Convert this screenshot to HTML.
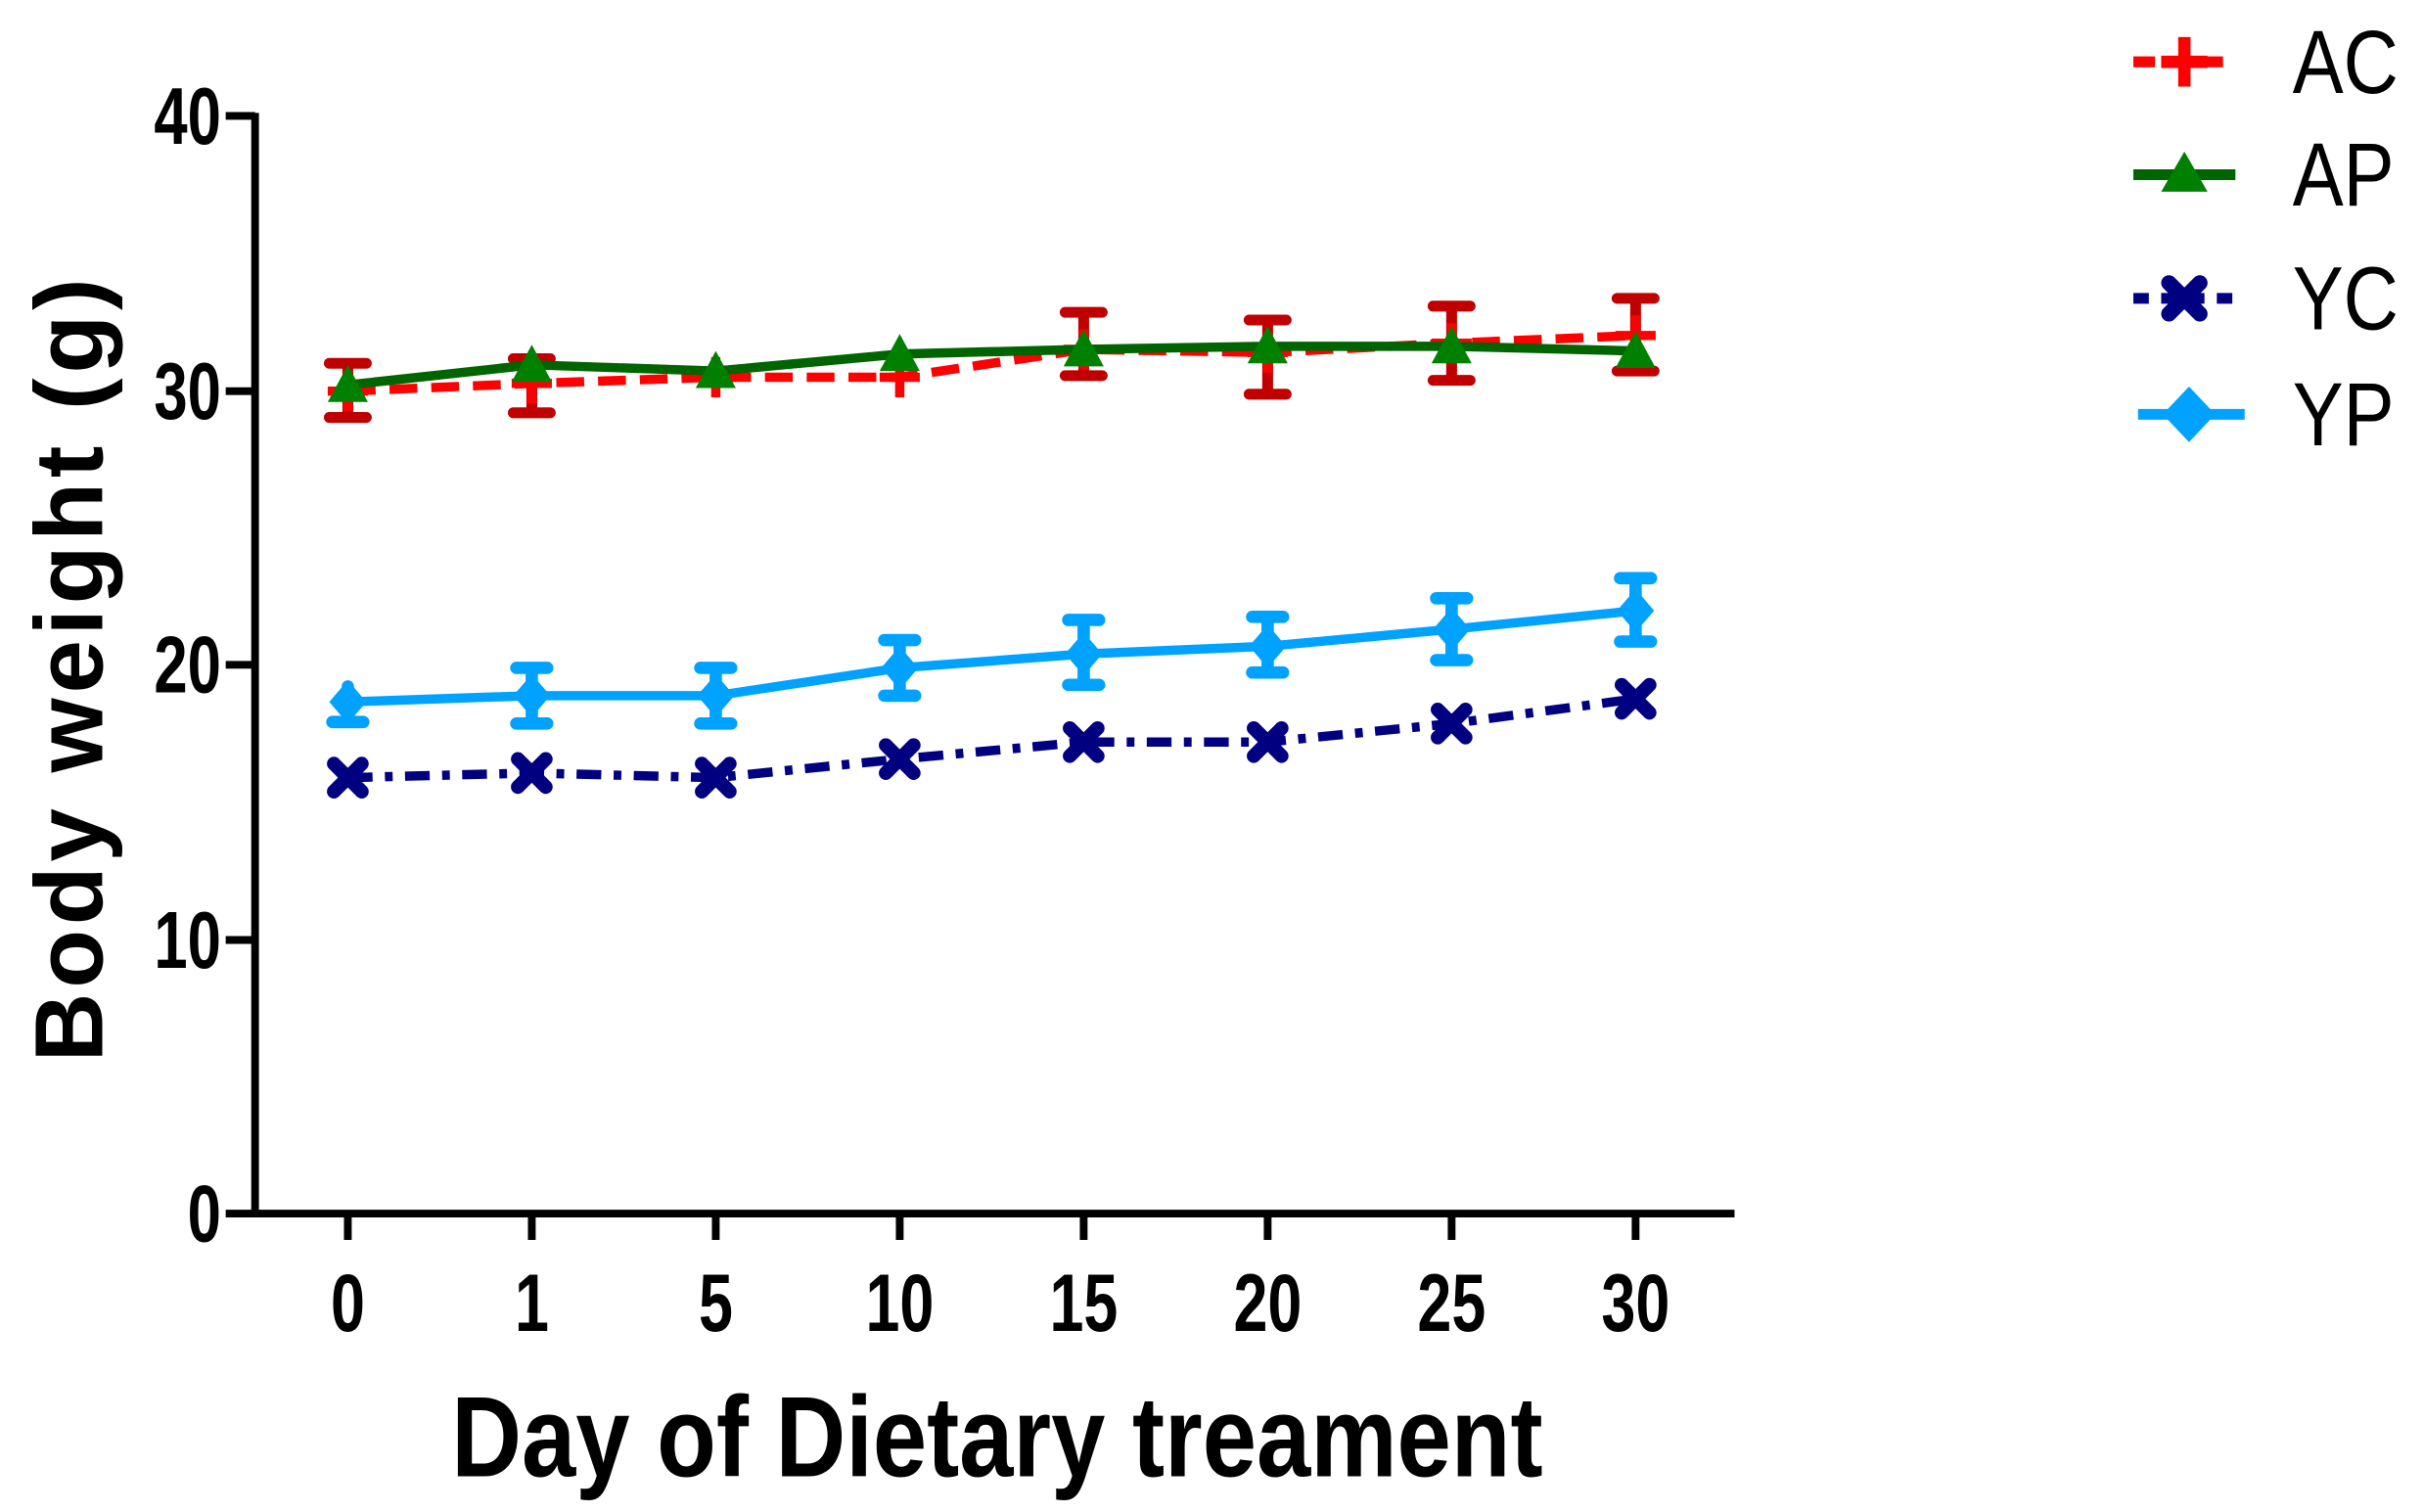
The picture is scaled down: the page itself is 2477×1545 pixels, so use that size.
<!DOCTYPE html>
<html><head><meta charset="utf-8"><style>
html,body{margin:0;padding:0;background:#fff;}
svg{display:block;}
text{font-family:"Liberation Sans",sans-serif;}
</style></head><body>
<svg width="2477" height="1545" viewBox="0 0 1568 978" preserveAspectRatio="none" xmlns="http://www.w3.org/2000/svg">
<g stroke="#000" stroke-width="5" fill="none">
<line x1="165" y1="73" x2="165" y2="787"/>
<line x1="146" y1="785" x2="1122" y2="785"/>
<line x1="146" y1="75" x2="165" y2="75"/>
<line x1="146" y1="253" x2="165" y2="253"/>
<line x1="146" y1="430" x2="165" y2="430"/>
<line x1="146" y1="608" x2="165" y2="608"/>
<line x1="225" y1="785" x2="225" y2="802"/>
<line x1="344" y1="785" x2="344" y2="802"/>
<line x1="463" y1="785" x2="463" y2="802"/>
<line x1="582" y1="785" x2="582" y2="802"/>
<line x1="701" y1="785" x2="701" y2="802"/>
<line x1="820" y1="785" x2="820" y2="802"/>
<line x1="939" y1="785" x2="939" y2="802"/>
<line x1="1058" y1="785" x2="1058" y2="802"/>
</g>
<g font-size="52" font-weight="bold" text-anchor="end">
<text transform="translate(143 93) scale(0.75 1)">40</text>
<text transform="translate(143 271) scale(0.75 1)">30</text>
<text transform="translate(143 448) scale(0.75 1)">20</text>
<text transform="translate(143 626) scale(0.75 1)">10</text>
<text transform="translate(143 803) scale(0.75 1)">0</text>
</g>
<g font-size="53" font-weight="bold" text-anchor="middle">
<text transform="translate(225 861) scale(0.75 1)">0</text>
<text transform="translate(344 861) scale(0.75 1)">1</text>
<text transform="translate(463 861) scale(0.75 1)">5</text>
<text transform="translate(582 861) scale(0.75 1)">10</text>
<text transform="translate(701 861) scale(0.75 1)">15</text>
<text transform="translate(820 861) scale(0.75 1)">20</text>
<text transform="translate(939 861) scale(0.75 1)">25</text>
<text transform="translate(1058 861) scale(0.75 1)">30</text>
</g>
<text transform="translate(645 955) scale(0.85 1)" font-size="74" font-weight="bold" text-anchor="middle">Day of Dietary treament</text>
<text transform="translate(66 432) rotate(-90)" font-size="62" font-weight="bold" text-anchor="middle" letter-spacing="3">Body weight (g)</text>

<g stroke="#c00000" stroke-width="7" stroke-linecap="round">
<path d="M225 235V270M213 235H237M213 270H237"/>
<path d="M344 232V267M332 232H356M332 267H356"/>
<path d="M701 202V243M689 202H713M689 243H713"/>
<path d="M820 207V255M808 207H832M808 255H832"/>
<path d="M939 198V246M927 198H951M927 246H951"/>
<path d="M1058 193V240M1046 193H1070M1046 240H1070"/>
</g>
<g stroke="#00a2ff" stroke-width="8" stroke-linecap="round">
<path d="M225 444V467M215 467H235"/>
<path d="M344 432V468M334 432H354M334 468H354"/>
<path d="M463 432V468M453 432H473M453 468H473"/>
<path d="M582 414V450M572 414H592M572 450H592"/>
<path d="M701 401V443M691 401H711M691 443H711"/>
<path d="M820 399V435M810 399H830M810 435H830"/>
<path d="M939 387V427M929 387H949M929 427H949"/>
<path d="M1058 374V415M1048 374H1068M1048 415H1068"/>
</g>
<polyline fill="none" stroke="#ff0000" stroke-width="6" stroke-dasharray="18,9" points="225,253 344,248 463,244 582,244 701,226 820,228 939,222 1058,217"/>
<g stroke="#ff0000" stroke-width="6">
<path d="M225 240V266M212 253H238M344 235V261M331 248H357M463 231V257M450 244H476M582 231V257M569 244H595M701 213V239M688 226H714M820 215V241M807 228H833M939 209V235M926 222H952M1058 204V230M1045 217H1071"/>
</g>
<polyline fill="none" stroke="#006400" stroke-width="6" points="225,249 344,236 463,240 582,229 701,226 820,224 939,224 1058,227"/>
<g fill="#008000">
<path d="M225 236L238 260H212Z"/><path d="M344 223L357 247H331Z"/><path d="M463 227L476 251H450Z"/><path d="M582 216L595 240H569Z"/><path d="M701 213L714 237H688Z"/><path d="M820 211L833 235H807Z"/><path d="M939 211L952 235H926Z"/><path d="M1058 214L1071 238H1045Z"/>
</g>
<polyline fill="none" stroke="#000080" stroke-width="6" stroke-dasharray="16,8,5,8" points="225,503 344,500 463,503 582,491 701,480 820,480 939,468 1058,452"/>
<g stroke="#000080" stroke-width="9" stroke-linecap="round">
<path d="M216 494L234 512M234 494L216 512"/>
<path d="M335 491L353 509M353 491L335 509"/>
<path d="M454 494L472 512M472 494L454 512"/>
<path d="M573 482L591 500M591 482L573 500"/>
<path d="M692 471L710 489M710 471L692 489"/>
<path d="M811 471L829 489M829 471L811 489"/>
<path d="M930 459L948 477M948 459L930 477"/>
<path d="M1049 443L1067 461M1067 443L1049 461"/>
</g>
<polyline fill="none" stroke="#00a2ff" stroke-width="6" points="225,454 344,450 463,450 582,432 701,423 820,418 939,407 1058,395"/>
<g fill="#00a2ff">
<path d="M225 440L237 454L225 468L213 454Z"/><path d="M344 436L356 450L344 464L332 450Z"/><path d="M463 436L475 450L463 464L451 450Z"/><path d="M582 418L594 432L582 446L570 432Z"/><path d="M701 409L713 423L701 437L689 423Z"/><path d="M820 404L832 418L820 432L808 418Z"/><path d="M939 393L951 407L939 421L927 407Z"/><path d="M1058 381L1070 395L1058 409L1046 395Z"/>
</g>
<line x1="1380" y1="40" x2="1446" y2="40" stroke="#ff0000" stroke-width="7" stroke-dasharray="14,8"/>
<path d="M1413 24V56M1398 40H1428" stroke="#ff0000" stroke-width="8"/>
<line x1="1380" y1="113" x2="1446" y2="113" stroke="#006400" stroke-width="7"/>
<path d="M1413 98L1428 124H1398Z" fill="#008000"/>
<line x1="1380" y1="193" x2="1446" y2="193" stroke="#000080" stroke-width="7" stroke-dasharray="10,8"/>
<path d="M1403 183L1423 203M1423 183L1403 203" stroke="#000080" stroke-width="10" stroke-linecap="round"/>
<line x1="1383" y1="268" x2="1452" y2="268" stroke="#00a2ff" stroke-width="7"/>
<path d="M1416 250L1433 268L1416 286L1399 268Z" fill="#00a2ff"/>
<g font-size="58">
<text transform="translate(1483 60) scale(0.85 1)">AC</text>
<text transform="translate(1483 133) scale(0.85 1)">AP</text>
<text transform="translate(1483 213) scale(0.85 1)">YC</text>
<text transform="translate(1483 288) scale(0.85 1)">YP</text>
</g>
</svg>
</body></html>
